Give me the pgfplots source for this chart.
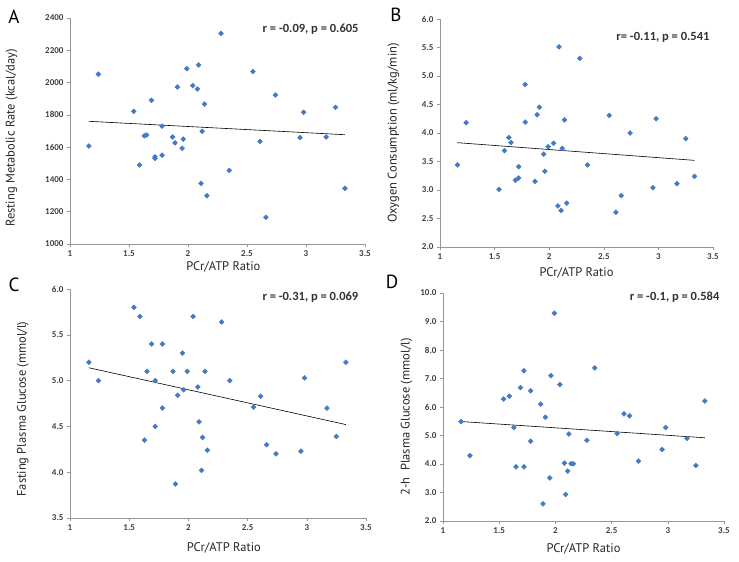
\documentclass[border=0pt]{standalone}
\usepackage{pgfplots}
\pgfplotsset{compat=1.18}
\usepackage{fontspec}
\setmainfont{Carlito}
\newfontfamily\labelfont{PT Sans}
\definecolor{dotblue}{RGB}{64,124,196}
\definecolor{axgray}{RGB}{150,150,150}
\pgfplotsset{
  panel/.style={
    scale only axis,
    anchor=south west,
    axis x line*=bottom, axis y line*=left,
    axis line style={draw=axgray, line width=0.6pt},
    every tick/.style={draw=axgray, line width=0.6pt},
    tick align=outside,
    major tick length=3pt,
    xmin=1, xmax=3.5,
    xtick={1,1.5,2,2.5,3,3.5},
    xticklabels={1,1.5,2,2.5,3,3.5},
    tick label style={font=\fontsize{9}{10}\selectfont\bfseries, color=black!75},
    /pgf/number format/assume math mode=true,
    scaled ticks=false,
    label style={font=\labelfont\fontsize{12.5}{14}\selectfont, color=black!85},
    xlabel={PCr/ATP Ratio},
    clip=false,
  },
  onedec/.style={yticklabel style={/pgf/number format/.cd, fixed, fixed zerofill, precision=1}},
  dots/.style={only marks, mark=square*, mark size=1.75pt, mark options={rotate=45, fill=dotblue, draw=dotblue}},
  reg/.style={black, line width=0.6pt, no marks},
}
\newcommand{\stat}{\fontsize{12.5}{14}\selectfont\bfseries\color{black!80}}
\begin{document}
\begin{tikzpicture}
\path[use as bounding box] (0,0) rectangle (739pt,562pt);
% ---------------- A
\begin{axis}[panel, at={(70pt,318pt)}, width=295pt, height=226pt,
  ymin=1000, ymax=2400, ytick={1000,1200,...,2400},
  yticklabel style={/pgf/number format/1000 sep={}},
  ylabel={Resting Metabolic Rate (kcal/day)},
  ylabel style={at={(axis description cs:-0.166,0.47)}, anchor=south},
  xlabel style={at={(axis description cs:0.52,-0.10)}, anchor=center}]
\addplot[dots] coordinates {
(1.16,1607) (1.24,2052) (1.54,1822) (1.59,1490) (1.63,1670) (1.65,1675)
(1.69,1890) (1.72,1540) (1.72,1530) (1.78,1730) (1.78,1550) (1.87,1663)
(1.89,1626) (1.91,1973) (1.95,1593) (1.96,1650) (1.99,2086) (2.04,1981)
(2.08,1960) (2.09,2109) (2.11,1376) (2.12,1698) (2.14,1867) (2.16,1299)
(2.28,2305) (2.35,1456) (2.55,2068) (2.61,1636) (2.66,1165) (2.74,1923)
(2.95,1659) (2.98,1816) (3.17,1663) (3.25,1847) (3.33,1345)};
\addplot[reg] coordinates {(1.16,1760) (3.33,1677)};
\node[anchor=east, font=\stat] at (rel axis cs:0.99,0.951) {r = -0.09, p = 0.605};
\end{axis}
% ---------------- B
\begin{axis}[panel, onedec, at={(440pt,315pt)}, width=273pt, height=228pt,
  ymin=2, ymax=6, ytick={2,2.5,...,6},
  ylabel={Oxygen Consumption (ml/kg/min)},
  ylabel style={at={(axis description cs:-0.136,0.5)}, anchor=south},
  xlabel style={at={(axis description cs:0.50,-0.114)}, anchor=center}]
\addplot[dots] coordinates {
(1.16,3.44) (1.24,4.18) (1.54,3.01) (1.59,3.69) (1.63,3.92) (1.65,3.83)
(1.69,3.17) (1.72,3.41) (1.72,3.21) (1.78,4.85) (1.78,4.19) (1.87,3.15)
(1.89,4.32) (1.91,4.45) (1.95,3.63) (1.96,3.33) (1.99,3.76) (2.04,3.82)
(2.08,2.72) (2.09,5.51) (2.11,2.64) (2.12,3.73) (2.14,4.23) (2.16,2.77)
(2.28,5.31) (2.35,3.44) (2.55,4.31) (2.61,2.61) (2.66,2.90) (2.74,4.00)
(2.95,3.04) (2.98,4.25) (3.17,3.11) (3.25,3.90) (3.33,3.24)};
\addplot[reg] coordinates {(1.16,3.83) (3.33,3.52)};
\node[anchor=east, font=\stat] at (rel axis cs:1.0,0.921) {r= -0.11, p = 0.541};
\end{axis}
% ---------------- C
\begin{axis}[panel, onedec, at={(70pt,44pt)}, width=296pt, height=229pt,
  ymin=3.5, ymax=6, ytick={3.5,4,...,6},
  ylabel={Fasting Plasma Glucose (mmol/l)},
  ylabel style={at={(axis description cs:-0.128,0.476)}, anchor=south},
  xlabel style={at={(axis description cs:0.52,-0.131)}, anchor=center}]
\addplot[dots] coordinates {
(1.16,5.20) (1.24,5.00) (1.54,5.80) (1.59,5.70) (1.63,4.35) (1.65,5.10)
(1.69,5.40) (1.72,5.00) (1.72,4.50) (1.78,5.40) (1.78,4.70) (1.87,5.10)
(1.89,3.87) (1.91,4.84) (1.95,5.30) (1.96,4.90) (1.99,5.10) (2.04,5.70)
(2.08,4.93) (2.09,4.55) (2.11,4.02) (2.12,4.38) (2.14,5.10) (2.16,4.24)
(2.28,5.64) (2.35,5.00) (2.55,4.71) (2.61,4.83) (2.66,4.30) (2.74,4.20)
(2.95,4.23) (2.98,5.03) (3.17,4.70) (3.25,4.39) (3.33,5.20)};
\addplot[reg] coordinates {(1.16,5.14) (3.33,4.52)};
\node[anchor=east, font=\stat] at (rel axis cs:0.986,0.965) {r = -0.31, p = 0.069};
\end{axis}
% ---------------- D
\begin{axis}[panel, onedec, at={(443pt,41pt)}, width=281pt, height=228pt,
  ymin=2, ymax=10, ytick={2,3,...,10},
  ylabel={2-h~ Plasma Glucose (mmol/l)},
  ylabel style={at={(axis description cs:-0.096,0.456)}, anchor=south},
  xlabel style={at={(axis description cs:0.50,-0.123)}, anchor=center}]
\addplot[dots] coordinates {
(1.16,5.49) (1.24,4.29) (1.54,6.28) (1.59,6.38) (1.63,5.28) (1.65,3.90)
(1.69,6.68) (1.72,7.27) (1.72,3.90) (1.78,6.57) (1.78,4.80) (1.87,6.10)
(1.89,2.60) (1.91,5.64) (1.95,3.51) (1.96,7.10) (1.99,9.29) (2.04,6.79)
(2.08,4.03) (2.09,2.93) (2.11,3.75) (2.12,5.05) (2.14,4.01) (2.16,4.01)
(2.28,4.83) (2.35,7.37) (2.55,5.07) (2.61,5.76) (2.66,5.69) (2.74,4.10)
(2.95,4.51) (2.98,5.28) (3.17,4.90) (3.25,3.95) (3.33,6.21)};
\addplot[reg] coordinates {(1.16,5.49) (3.33,4.92)};
\node[anchor=east, font=\stat] at (rel axis cs:0.996,0.982) {r = -0.1, p = 0.584};
\end{axis}
% panel letters
\node[font=\labelfont\fontsize{19}{20}\selectfont] at (14pt,545pt) {A};
\node[font=\labelfont\fontsize{19}{20}\selectfont] at (396pt,547pt) {B};
\node[font=\labelfont\fontsize{19}{20}\selectfont] at (14pt,277pt) {C};
\node[font=\labelfont\fontsize{19}{20}\selectfont] at (392pt,280pt) {D};
\end{tikzpicture}
\end{document}
